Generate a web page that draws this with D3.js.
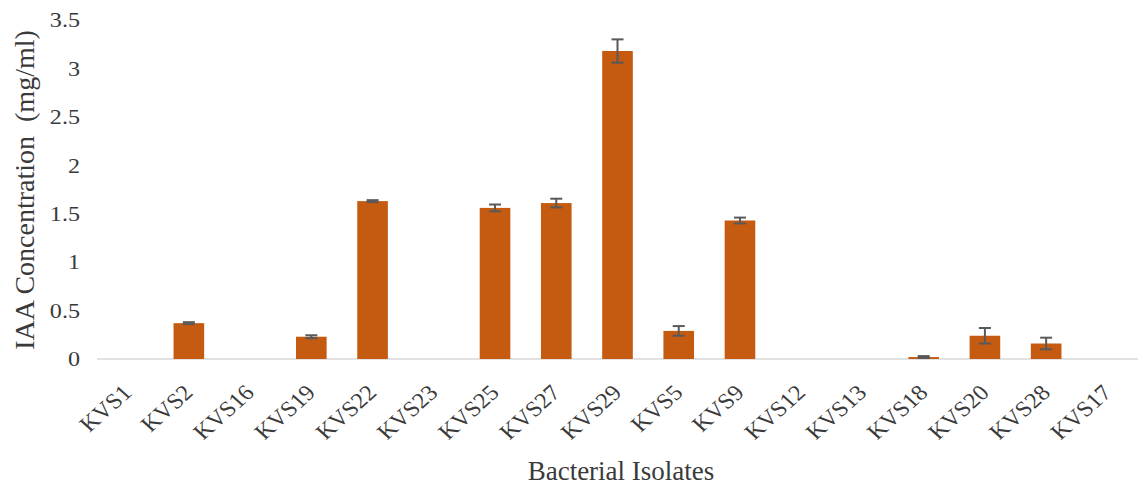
<!DOCTYPE html>
<html><head><meta charset="utf-8">
<script src="https://cdn.jsdelivr.net/npm/d3@7"></script>
<style>body{margin:0;background:#fff}svg{display:block}</style>
</head><body>
<svg id="c" width="1140" height="486"></svg>
<script>
const categories = ["KVS1","KVS2","KVS16","KVS19","KVS22","KVS23","KVS25","KVS27","KVS29","KVS5","KVS9","KVS12","KVS13","KVS18","KVS20","KVS28","KVS17"];
const values = [0,0.37,0,0.23,1.63,0,1.56,1.61,3.18,0.29,1.43,0,0,0.02,0.24,0.16,0];
const errors = [0,0.01,0,0.015,0.01,0,0.035,0.045,0.12,0.05,0.03,0,0,0.01,0.08,0.06,0];
const yTicks = [0,0.5,1,1.5,2,2.5,3,3.5];
const yTickLabels = ["0","0.5","1","1.5","2","2.5","3","3.5"];

const svg = d3.select("#c");
const font = "'Liberation Serif','Times New Roman',serif";
const x = d3.scaleBand().domain(categories).range([97,1138]).paddingInner(0.5).paddingOuter(0.25);
const y = d3.scaleLinear().domain([0,3.5]).range([359,20]);

// axis line
svg.append("line").attr("x1",97).attr("x2",1138).attr("y1",y(0)).attr("y2",y(0))
  .attr("stroke","#d9d9d9").attr("stroke-width",1.5);

// y tick labels (slightly widened like the reference)
svg.append("g").selectAll("text").data(yTicks).join("text")
  .attr("transform",d=>"translate(80," + y(d) + ") scale(1.15,1)")
  .attr("dy","0.35em").attr("text-anchor","end")
  .attr("font-family",font).attr("font-size",21).attr("fill","#3a3a3a")
  .text((d,i)=>yTickLabels[i]);

// bars
svg.append("g").selectAll("rect").data(categories).join("rect")
  .attr("x",d=>x(d)).attr("width",x.bandwidth())
  .attr("y",(d,i)=>y(values[i])).attr("height",(d,i)=>y(0)-y(values[i]))
  .attr("fill","#C55A11");

// error bars
const eg = svg.append("g").attr("stroke","#595959").attr("stroke-width",2);
categories.forEach((c,i)=>{
  if(values[i]<=0) return;
  const cx = x(c)+x.bandwidth()/2;
  const t = y(values[i]+errors[i]), b = y(values[i]-errors[i]);
  eg.append("line").attr("x1",cx).attr("x2",cx).attr("y1",t).attr("y2",b);
  eg.append("line").attr("x1",cx-6).attr("x2",cx+6).attr("y1",t).attr("y2",t);
  eg.append("line").attr("x1",cx-6).attr("x2",cx+6).attr("y1",b).attr("y2",b);
});

// x labels rotated -45, baseline end near the tick
const lab = svg.append("g").selectAll("text").data(categories).join("text")
  .attr("font-family",font).attr("font-size",22).attr("fill","#3a3a3a")
  .text(d=>d);
lab.each(function(d){
  const w = this.getComputedTextLength();
  const cx = x(d)+x.bandwidth()/2+5.5;
  d3.select(this).attr("x",-w).attr("y",0)
    .attr("transform","matrix(0.792,-0.7071,0.792,0.7071,"+cx+",394)");
});

// axis titles
svg.append("text").attr("x",621).attr("y",480).attr("text-anchor","middle")
  .attr("font-family",font).attr("font-size",27).attr("fill","#3a3a3a").text("Bacterial Isolates");
svg.append("text").attr("transform","translate(34,190) rotate(-90)").attr("text-anchor","middle")
  .attr("font-family",font).attr("font-size",28).attr("fill","#3a3a3a")
  .attr("xml:space","preserve").style("white-space","pre").text("IAA Concentration  (mg/ml)");
</script>
</body></html>
